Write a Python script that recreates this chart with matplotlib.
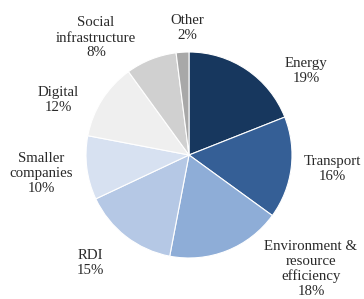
import matplotlib
matplotlib.use("Agg")
import matplotlib.pyplot as plt

categories = ["Energy", "Transport", "Environment &\nresource\nefficiency", "RDI",
              "Smaller\ncompanies", "Digital", "Social\ninfrastructure", "Other"]
shares = [19, 16, 18, 15, 10, 12, 8, 2]
colors = ["#17375E", "#355F96", "#8EADD7", "#B5C8E5", "#D7E1F1", "#EFEFEF", "#D0D0D0", "#A8A8A8"]

# label centres (pixel coordinates from top-left of 364x299 figure)
label_px = [(306, 71), (332, 169), (311, 269), (90, 263),
            (41, 173), (58, 100), (96, 38), (187, 28)]

W, H = 364, 299
cx, cy, R = 189, 155, 103

fig = plt.figure(figsize=(W / 100, H / 100), dpi=100)
ax = fig.add_axes([0, 0, 1, 1])
ax.axis("off")

ax.pie(shares, colors=colors, startangle=90, counterclock=False, radius=1,
       wedgeprops=dict(edgecolor="white", linewidth=0.8))
ax.set_xlim(-cx / R, (W - cx) / R)
ax.set_ylim(-(H - cy) / R, cy / R)
ax.set_aspect("auto")

for cat, s, (px, py) in zip(categories, shares, label_px):
    ax.text((px - cx) / R, (cy - py) / R, f"{cat}\n{s}%", ha="center", va="center",
            fontsize=10.7, family="Liberation Serif", color="#2a2a2a", linespacing=1.2)

fig.savefig("out.png", dpi=100)
